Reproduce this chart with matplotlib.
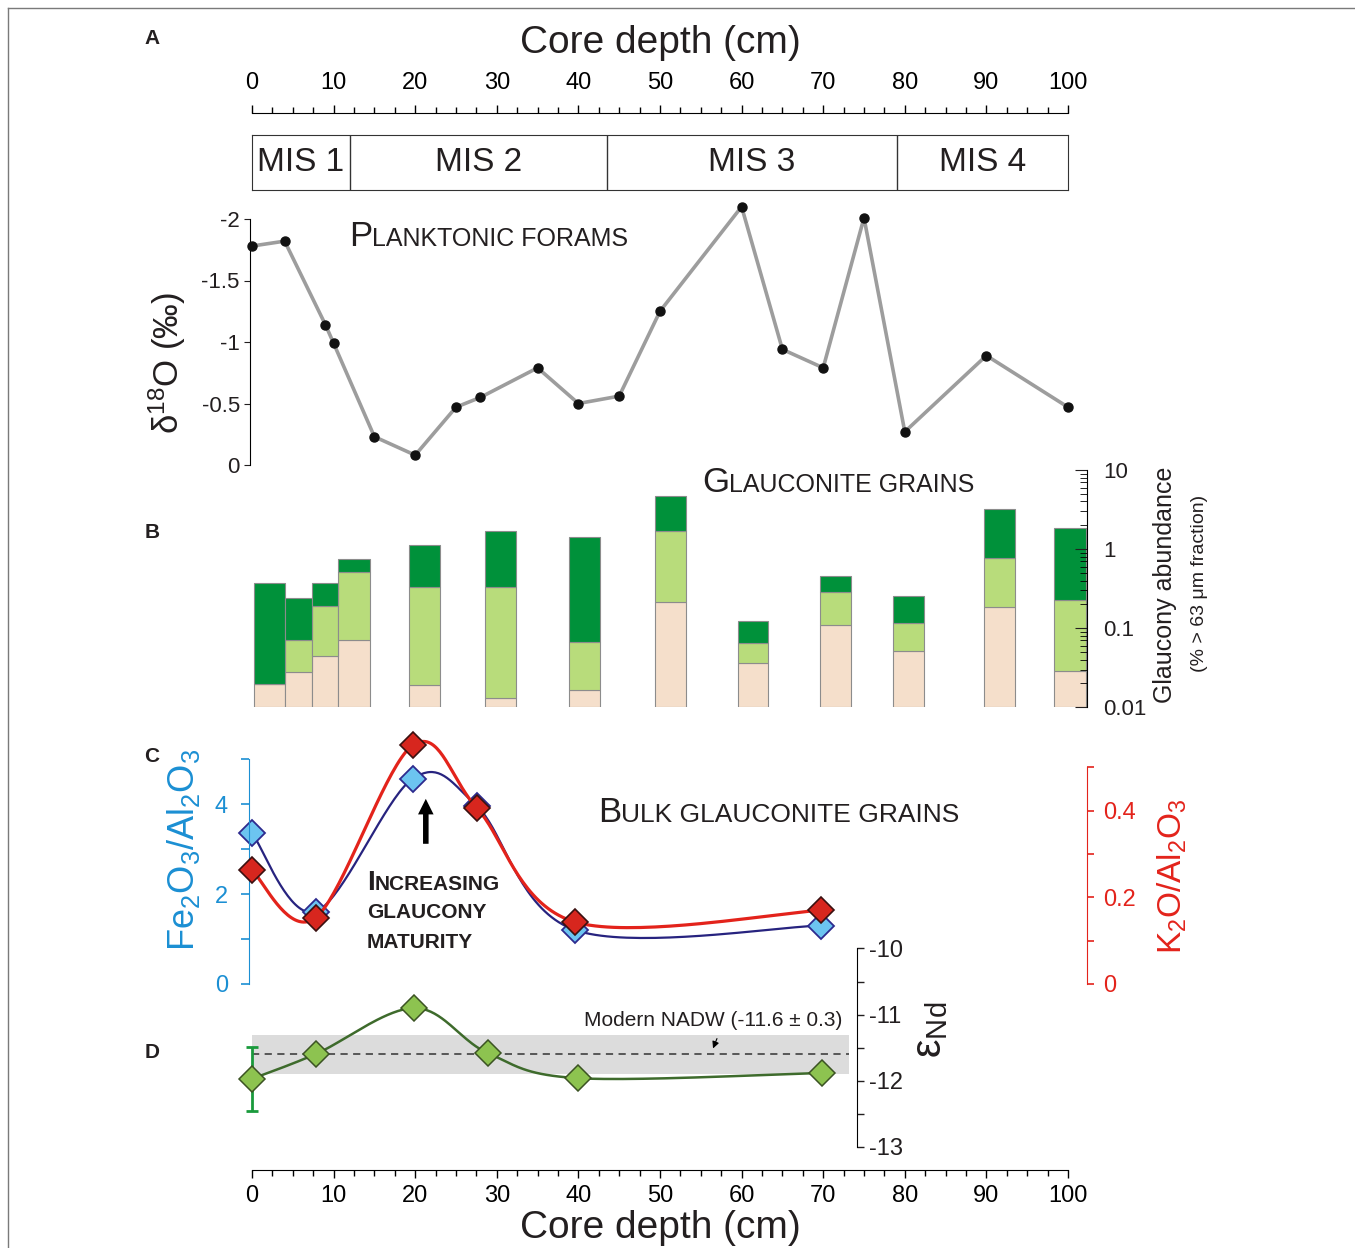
import matplotlib
matplotlib.use("Agg")
import matplotlib.pyplot as plt
import numpy as np
from matplotlib.lines import Line2D
from matplotlib.offsetbox import TextArea, HPacker, AnnotationBbox
from matplotlib.ticker import LogLocator, NullFormatter

plt.rcParams["font.family"] = ["Liberation Sans", "DejaVu Sans"]
plt.rcParams["mathtext.fontset"] = "custom"
plt.rcParams["mathtext.rm"] = "Liberation Sans"
plt.rcParams["mathtext.it"] = "Liberation Sans:italic"
plt.rcParams["mathtext.bf"] = "Liberation Sans:bold"
plt.rcParams["axes.unicode_minus"] = False

# --- A: planktonic foram d18O
depth_a = [0, 4, 9, 10, 15, 20, 25, 28, 35, 40, 45, 50, 60, 65, 70, 75, 80, 90, 100]
d18o = [-1.78, -1.82, -1.14, -0.99, -0.23, -0.08, -0.47, -0.55, -0.79, -0.50,
        -0.56, -1.25, -2.10, -0.94, -0.79, -2.01, -0.27, -0.89, -0.47]
mis_bounds = [0, 12, 43.5, 79, 100]
mis_labels = ["MIS 1", "MIS 2", "MIS 3", "MIS 4"]

# --- B: glaucony abundance (cumulative levels, % of >63 um fraction)
interval_start = [0.3, 4.0, 7.3, 10.6, 19.2, 28.6, 38.9, 49.4, 59.5, 69.6, 78.6, 89.7, 98.3]
interval_end = [4.0, 7.3, 10.6, 14.4, 23.0, 32.4, 42.7, 53.2, 63.2, 73.4, 82.3, 93.5, 102.2]
cum_beige = [0.0197, 0.0277, 0.0443, 0.0718, 0.019, 0.013, 0.0164, 0.217, 0.036, 0.111, 0.052, 0.185, 0.0286]
cum_light = [0.0197, 0.0718, 0.19, 0.516, 0.33, 0.33, 0.067, 1.67, 0.0658, 0.286, 0.117, 0.77, 0.228]
cum_total = [0.374, 0.244, 0.377, 0.76, 1.13, 1.67, 1.42, 4.73, 0.123, 0.459, 0.259, 3.24, 1.85]

# --- C: bulk glauconite chemistry
depth_c = [0, 7.8, 19.7, 27.6, 39.6, 69.7]
fe_al = [3.36, 1.61, 4.57, 3.95, 1.20, 1.30]
k_al = [0.262, 0.153, 0.551, 0.405, 0.143, 0.170]

# --- D: eNd
depth_d = [0, 7.9, 19.9, 28.9, 40, 69.9]
eps_nd = [-11.97, -11.59, -10.90, -11.58, -11.96, -11.88]
eps_err = 0.48
nadw = -11.6
nadw_err = 0.3

W, H = 1355, 1248
X0, PX = 252, 8.16
BLUE = "#1b8fd3"
RED = "#e3231b"
TXT = "#231f20"

fig = plt.figure(figsize=(W / 100, H / 100), dpi=100)


def panel(xlo, xhi, y_top, y_bot):
    ax = fig.add_axes([(X0 + PX * xlo) / W, 1 - y_bot / H,
                       PX * (xhi - xlo) / W, (y_bot - y_top) / H])
    ax.set_xlim(xlo, xhi)
    ax.patch.set_alpha(0)
    for s in ax.spines.values():
        s.set_visible(False)
    ax.set_xticks([])
    ax.set_yticks([])
    return ax


def smooth(x, y, n=40):
    p = np.column_stack([x, y]).astype(float)
    ext = np.vstack([p[0], p, p[-1]])
    segs = []
    t = np.linspace(0, 1, n)[:, None]
    for i in range(len(p) - 1):
        p0, p1, p2, p3 = ext[i], ext[i + 1], ext[i + 2], ext[i + 3]
        c1 = p1 + (p2 - p0) / 6
        c2 = p2 - (p3 - p1) / 6
        segs.append((1 - t) ** 3 * p1 + 3 * (1 - t) ** 2 * t * c1
                    + 3 * (1 - t) * t ** 2 * c2 + t ** 3 * p2)
    return np.vstack(segs)


def ftext(x, y, s, **kw):
    kw.setdefault("ha", "center")
    kw.setdefault("va", "center")
    kw.setdefault("color", TXT)
    return fig.text(x / W, 1 - y / H, s, **kw)


def small_caps(x, y, parts, weight="normal"):
    boxes = [TextArea(t, textprops=dict(size=s, weight=weight, color=TXT))
             for t, s in parts]
    pack = HPacker(children=boxes, align="baseline", pad=0, sep=0)
    ab = AnnotationBbox(pack, (x, H - y), xycoords="figure pixels",
                        box_alignment=(0, 0.5), frameon=False)
    fig.add_artist(ab)


# frame
fig.add_artist(Line2D([8 / W, 1], [1 - 8 / H] * 2, transform=fig.transFigure,
                      color="#7a7a7a", lw=1))
fig.add_artist(Line2D([8 / W] * 2, [0, 1 - 8 / H], transform=fig.transFigure,
                      color="#7a7a7a", lw=1))

# top depth scale
ax_t = panel(0, 100, 113, 114)
ax_t.spines["top"].set_visible(True)
ax_t.xaxis.set_ticks_position("top")
ax_t.set_xticks(range(0, 101, 10))
ax_t.set_xticks(np.arange(0, 100.1, 2.5), minor=True)
ax_t.tick_params(axis="x", which="major", direction="out", length=6, width=1,
                 labelsize=17, pad=8, labeltop=True, labelbottom=False)
ax_t.tick_params(axis="x", which="minor", direction="out", length=4, width=1)
ftext(660, 43, "Core depth (cm)", size=28)

# MIS boxes
ax_m = panel(0, 100, 135, 190)
ax_m.set_ylim(0, 1)
for s in ax_m.spines.values():
    s.set_visible(True)
    s.set_color("#333333")
for b in mis_bounds[1:-1]:
    ax_m.axvline(b, color="#333333", lw=1)
for lo, hi, lab in zip(mis_bounds[:-1], mis_bounds[1:], mis_labels):
    ax_m.text((lo + hi) / 2, 0.5, lab, ha="center", va="center", size=24, color=TXT)

# panel A
axA = panel(-0.3, 100.5, 219, 465)
axA.set_ylim(0, -2)
axA.spines["left"].set_visible(True)
axA.set_yticks([0, -0.5, -1, -1.5, -2])
axA.set_yticklabels(["0", "-0.5", "-1", "-1.5", "-2"])
axA.tick_params(axis="y", direction="out", length=4, labelsize=16, pad=3, colors=TXT)
axA.plot(depth_a, d18o, color="#9d9d9d", lw=2.6, zorder=2, clip_on=False)
axA.plot(depth_a, d18o, "o", ms=6.5, color="#111111", zorder=3, clip_on=False)
ftext(167, 363, "δ$^{18}$O (‰)", size=25, rotation=90)
small_caps(349, 236, [("P", 25), ("LANKTONIC FORAMS", 18)])

# panel B
axB = panel(0, 102.3, 470, 707.3)
axB.set_yscale("log")
axB.set_ylim(0.01, 10)
axB.spines["right"].set_visible(True)
axB.yaxis.set_ticks_position("right")
axB.set_yticks([0.01, 0.1, 1, 10])
axB.set_yticklabels(["0.01", "0.1", "1", "10"])
axB.yaxis.set_minor_locator(LogLocator(base=10, subs=np.arange(2, 10)))
axB.yaxis.set_minor_formatter(NullFormatter())
axB.tick_params(axis="y", which="major", direction="in", length=9, labelsize=16,
                pad=12, colors=TXT)
axB.tick_params(axis="y", which="minor", direction="in", length=5)
widths = np.array(interval_end) - np.array(interval_start)
floor = [0.01] * len(cum_beige)
layers = [(floor, cum_beige, "#f5dfcb"), (cum_beige, cum_light, "#b8dc7b"),
          (cum_light, cum_total, "#00913a")]
for lower, upper, col in layers:
    axB.bar(interval_start, np.array(upper) - np.array(lower), bottom=lower,
            width=widths, align="edge", color=col, edgecolor="#8c8c8c", lw=0.8)
small_caps(702, 483, [("G", 25), ("LAUCONITE GRAINS", 18)])
ftext(1165, 585, "Glaucony abundance", size=18, rotation=90)
ftext(1200, 583, "(% > 63 μm fraction)", size=14, rotation=90)

# panel C
axC = panel(-0.4, 102.3, 759.3, 984)
axC.set_ylim(0, 5)
axC.spines["left"].set_visible(True)
axC.spines["left"].set_color(BLUE)
axC.set_yticks([0, 2, 4])
axC.set_yticks([1, 3, 5], minor=True)
axC.tick_params(axis="y", which="both", direction="out", length=6, width=1.2,
                color=BLUE, labelcolor=BLUE, labelsize=17, pad=9)
axC2 = axC.twinx()
axC2.set_ylim(0, 0.5185)
for s in axC2.spines.values():
    s.set_visible(False)
axC2.spines["right"].set_visible(True)
axC2.spines["right"].set_color(RED)
axC2.spines["right"].set_bounds(0, 0.5)
axC2.set_yticks([0, 0.2, 0.4])
axC2.set_yticklabels(["0", "0.2", "0.4"])
axC2.set_yticks([0.1, 0.3, 0.5], minor=True)
axC2.tick_params(axis="y", which="both", direction="out", length=5, width=1.2,
                 color=RED, labelcolor=RED, labelsize=17, pad=7)
axC2.patch.set_alpha(0)

cb = smooth(depth_c, fe_al)
axC.plot(cb[:, 0], cb[:, 1], color="#27237f", lw=1.6, clip_on=False)
axC.plot(depth_c, fe_al, "D", ms=13, mfc="#6cc4f0", mec="#2d2a8e", mew=1.3,
         clip_on=False)
cr = smooth(depth_c, k_al)
axC2.plot(cr[:, 0], cr[:, 1], color=RED, lw=2.3, clip_on=False)
axC2.plot(depth_c, k_al, "D", ms=13, mfc="#d7261e", mec="#3a1010", mew=1.2,
          clip_on=False)
axC.annotate("", xy=(21.3, 4.12), xytext=(21.3, 3.12),
             arrowprops=dict(arrowstyle="simple,head_width=0.7,head_length=0.7,tail_width=0.25",
                             mutation_scale=16, fc="black", ec="black", lw=0,
                             shrinkA=0, shrinkB=0))
ftext(183, 850, "Fe$_2$O$_3$/Al$_2$O$_3$", size=26, rotation=90, color=BLUE)
ftext(1172, 876, "K$_2$O/Al$_2$O$_3$", size=24, rotation=90, color=RED)
small_caps(598, 813, [("B", 25), ("ULK GLAUCONITE GRAINS", 19)])
small_caps(367, 883, [("I", 20), ("NCREASING", 15)], weight="bold")
small_caps(367, 913, [("GLAUCONY", 15)], weight="bold")
small_caps(367, 943, [("MATURITY", 15)], weight="bold")

# panel D
axD = panel(-0.5, 74.1, 948.5, 1147)
axD.set_ylim(-13, -10)
axD.spines["right"].set_visible(True)
axD.yaxis.set_ticks_position("right")
axD.set_yticks([-13, -12, -11, -10])
axD.set_yticklabels(["-13", "-12", "-11", "-10"])
axD.set_yticks([-12.5, -11.5, -10.5], minor=True)
axD.tick_params(axis="y", which="both", direction="out", length=5, width=1,
                labelsize=17, pad=4, colors=TXT)
axD.fill_between([0, 73.2], nadw - nadw_err, nadw + nadw_err, color="#dcdcdc",
                 lw=0, zorder=0)
axD.plot([0, 73.2], [nadw, nadw], ls=(0, (4, 3)), color="#4d4d4d", lw=1.3, zorder=1)
cg = smooth(depth_d, eps_nd)
axD.plot(cg[:, 0], cg[:, 1], color="#3e6b2c", lw=1.8, zorder=2, clip_on=False)
axD.errorbar(depth_d[0], eps_nd[0], yerr=eps_err, fmt="none", ecolor="#1a9a3c",
             elinewidth=2, capsize=4, capthick=2, zorder=2, clip_on=False)
axD.plot(depth_d, eps_nd, "D", ms=13, mfc="#8dc350", mec="#3b5323", mew=1.1,
         zorder=3, clip_on=False)
ftext(713, 1020, f"Modern NADW ({nadw} ± {nadw_err})", size=15)
fig.add_artist(matplotlib.patches.FancyArrowPatch(
    (718, H - 1036), (712, H - 1051), transform=None,
    arrowstyle="-|>,head_width=2,head_length=4", color="black", lw=0.8))
ftext(930, 1030, "ε$_{\\rm Nd}$", size=30, rotation=90)

# bottom depth scale
ax_bt = panel(0, 100, 1169, 1170)
ax_bt.spines["bottom"].set_visible(True)
ax_bt.set_xticks(range(0, 101, 10))
ax_bt.set_xticks(np.arange(0, 100.1, 2.5), minor=True)
ax_bt.tick_params(axis="x", which="major", direction="out", length=6, width=1,
                  labelsize=17, pad=5)
ax_bt.tick_params(axis="x", which="minor", direction="out", length=4, width=1)
ftext(660, 1228, "Core depth (cm)", size=28)

for lab, y in zip("ABCD", [38, 533, 757, 1053]):
    ftext(152, y, lab, size=15, weight="bold")

fig.savefig("out.png", dpi=100)
